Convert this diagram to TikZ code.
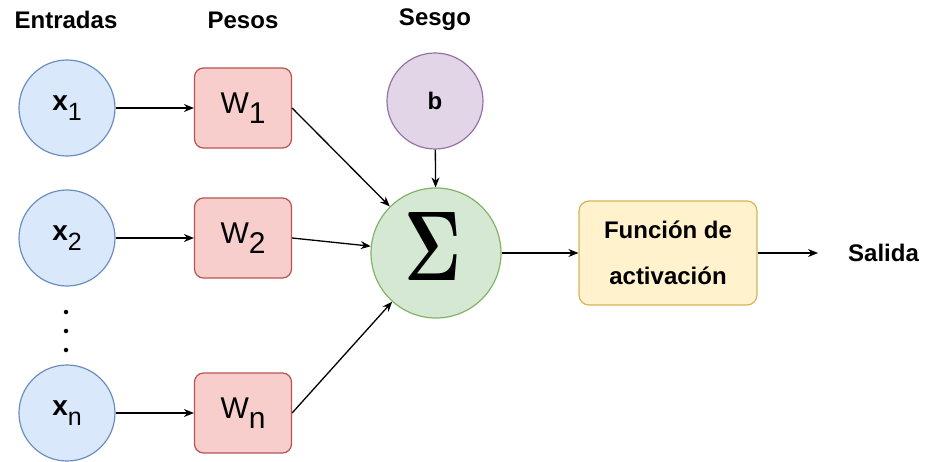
\documentclass[tikz,border=0pt]{standalone}
\usepackage{fontspec}
\usepackage{graphicx}
\setmainfont{Liberation Sans}
\usetikzlibrary{arrows.meta}
\definecolor{bluef}{HTML}{DAE8FC}\definecolor{blued}{HTML}{6C8EBF}
\definecolor{redf}{HTML}{F8CECC}\definecolor{redd}{HTML}{B85450}
\definecolor{greenf}{HTML}{D5E8D4}\definecolor{greend}{HTML}{82B366}
\definecolor{purf}{HTML}{E1D5E7}\definecolor{purd}{HTML}{9673A6}
\definecolor{yelf}{HTML}{FFF2CC}\definecolor{yeld}{HTML}{D6B656}
\newcommand{\xsub}[1]{{\bfseries\fontsize{28}{28}\selectfont x}\raisebox{-10pt}{\fontsize{25}{25}\selectfont #1}}
\newcommand{\wsub}[1]{W\raisebox{-10pt}{#1}}
\begin{document}
\begin{tikzpicture}[x=1pt,y=-1pt,
  inp/.style={circle,draw=blued,fill=bluef,line width=1.2pt,minimum size=96pt,inner sep=0pt},
  wbox/.style={rounded corners=9pt,draw=redd,fill=redf,line width=1.2pt,minimum width=97pt,minimum height=80pt,inner sep=0pt,font=\fontsize{30}{30}\selectfont},
  head/.style={font=\bfseries\fontsize{24}{24}\selectfont},
  dot/.style={circle,fill=black,inner sep=0pt,minimum size=4.5pt},
  arr/.style={-{Stealth[length=10pt,width=8pt]},line width=1.3pt}]
\useasboundingbox (0,0) rectangle (925,462);
\node[head] (tin) at (66,20) {Entradas};
\node[head] (tw) at (243,20) {Pesos};
\node[head] (tb) at (435,20) {Sesgo};

\node[inp] (x1) at (67,108) {\xsub{1}};
\node[inp] (x2) at (67,238) {\xsub{2}};
\node[inp] (xn) at (67,413) {\xsub{n}};
\node[dot] (d1) at (66,312) {};
\node[dot] (d2) at (66,331) {};
\node[dot] (d3) at (66,350) {};

\node[wbox] (w1) at (243,108) {\wsub{1}};
\node[wbox] (w2) at (243,238) {\wsub{2}};
\node[wbox] (wn) at (243,413) {\wsub{n}};

\node[circle,draw=purd,fill=purf,line width=1.2pt,minimum size=96pt,inner sep=0pt,font=\bfseries\fontsize{24}{24}\selectfont] (b) at (435,101) {b};
\node[circle,draw=greend,fill=greenf,line width=1.2pt,minimum size=130pt,inner sep=0pt] (s) at (436,253) {};
\node (sig) at (433,246) {\resizebox{57pt}{68pt}{\boldmath$\Sigma$}};

\node[rounded corners=10pt,draw=yeld,fill=yelf,line width=1.2pt,minimum width=178pt,minimum height=104pt,inner sep=0pt,align=center,font=\bfseries\fontsize{24}{46}\selectfont] (act) at (668,253) {Función de\\activación};
\node[head,anchor=west,inner sep=0pt] (out) at (848,253) {Salida};
\coordinate (oend) at (818,253);

\draw[arr] (x1) -- (w1);
\draw[arr] (x2) -- (w2);
\draw[arr] (xn) -- (wn);
\draw[arr] (w1.east) -- (s);
\draw[arr] (w2.east) -- (s);
\draw[arr] (wn.east) -- (s);
\draw[arr] (b) -- (s);
\draw[arr] (s) -- (act);
\draw[arr] (act) -- (oend);
\end{tikzpicture}
\end{document}
